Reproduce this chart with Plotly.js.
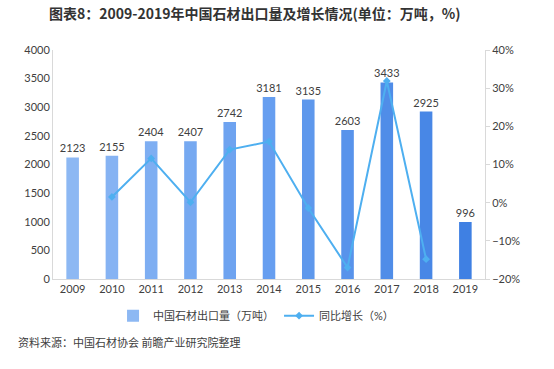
<!DOCTYPE html>
<html>
<head>
<meta charset="utf-8">
<script src="https://cdn.plot.ly/plotly-3.0.1.min.js"></script>
<style>html,body{margin:0;padding:0;background:#fff;}#chart{width:554px;height:369px;}</style>
</head>
<body>
<div id="chart"></div>
<script>
const years = ['2009','2010','2011','2012','2013','2014','2015','2016','2017','2018','2019'];
const exportVolume = [2123, 2155, 2404, 2407, 2742, 3181, 3135, 2603, 3433, 2925, 996];
const growthYears = ['2010','2011','2012','2013','2014','2015','2016','2017','2018'];
const growthRate = [1.5, 11.6, 0.1, 13.9, 16.0, -1.4, -17.0, 31.9, -14.8];
const barColors = ['#8db8f3','#86b3f3','#7eaef2','#76a9f1','#6ea3f0','#669ef0','#5e98ec','#5893eb','#508de8','#4887e6','#3f80e3'];

const font = "Lato, 'Noto Sans CJK SC', sans-serif";

const traces = [
  {
    type: 'bar', name: '中国石材出口量（万吨）', x: years, y: exportVolume,
    marker: {color: barColors}, width: 0.32,
    text: exportVolume.map(String), textposition: 'outside', constraintext: 'none',
    textfont: {size: 11, color: '#404040', family: font}, cliponaxis: false,
    hoverinfo: 'x+y'
  },
  {
    type: 'scatter', mode: 'lines+markers', name: '同比增长（%）', x: growthYears, y: growthRate,
    yaxis: 'y2', line: {color: '#4eaff0', width: 2},
    marker: {symbol: 'diamond', size: 6, color: '#4eaff0'}
  }
];

const layout = {
  width: 554, height: 369,
  margin: {l: 53, r: 69, t: 50, b: 90},
  paper_bgcolor: '#fff', plot_bgcolor: '#fff',
  font: {family: font, size: 11, color: '#595959'},
  title: {
    text: '<b>图表8：2009-2019年中国石材出口量及增长情况(单位：万吨，%)</b>',
    font: {family: "'Noto Sans CJK SC', sans-serif", size: 14, color: '#333333'},
    x: 0.46, xanchor: 'center', y: 0.962, yanchor: 'middle'
  },
  bargap: 0.6,
  xaxis: {
    type: 'category', showline: true, linecolor: '#d9d9d9', linewidth: 1,
    ticks: '', showgrid: false, tickfont: {size: 11, color: '#404040'}
  },
  yaxis: {
    range: [0, 4000], dtick: 500, showgrid: false, zeroline: false,
    showline: true, linecolor: '#d9d9d9', ticks: '', tickfont: {size: 11, color: '#404040'}
  },
  yaxis2: {
    overlaying: 'y', side: 'right', range: [-20, 40], dtick: 10, ticksuffix: '%',
    showgrid: false, zeroline: false, showline: true, linecolor: '#d9d9d9',
    ticks: 'outside', ticklen: 4, tickcolor: '#d9d9d9', tickfont: {size: 11, color: '#404040'}
  },
  showlegend: true,
  legend: {
    orientation: 'h', x: 0.47, xanchor: 'center', y: -0.16, yanchor: 'middle',
    font: {size: 11, color: '#404040'}, bgcolor: 'rgba(0,0,0,0)', itemwidth: 30
  },
  annotations: [{
    text: '资料来源：中国石材协会 前瞻产业研究院整理', xref: 'paper', yref: 'paper',
    x: -0.086, xanchor: 'left', y: -0.275, yanchor: 'middle', showarrow: false,
    font: {family: "'Noto Sans CJK SC', sans-serif", size: 11, color: '#404040'}
  }]
};

Plotly.newPlot('chart', traces, layout, {displayModeBar: false, staticPlot: true});
</script>
</body>
</html>
